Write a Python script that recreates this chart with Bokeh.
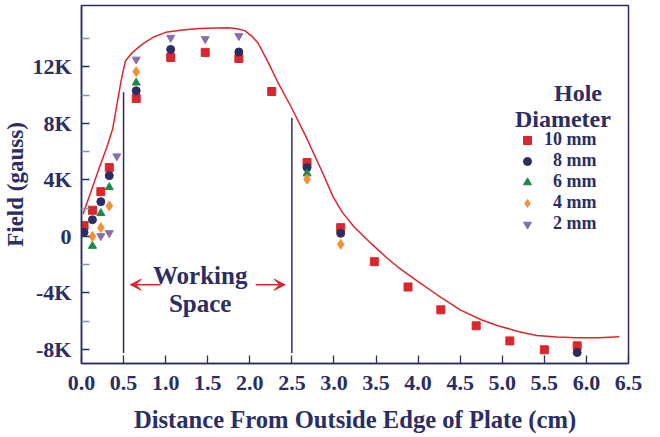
from bokeh.plotting import figure
from bokeh.models import (Range1d, FixedTicker, Legend, LegendItem, Arrow, VeeHead,
                          Label, NumeralTickFormatter)
from bokeh.embed import file_html
from bokeh.resources import INLINE

# ---------------- data ----------------
# 10 mm hole (squares)
sq_x = [0.03, 0.13, 0.23, 0.33, 0.65, 1.06, 1.47, 1.87, 2.26, 2.68, 3.08, 3.48, 3.88, 4.27, 4.69, 5.09, 5.50, 5.89]
sq_y = [760, 1850, 3170, 4870, 9770, 12670, 13030, 12600, 10260, 5230, 620, -1790, -3580, -5200, -6330, -7400, -8030, -7750]
# 8 mm hole (circles)
ci_x = [0.03, 0.13, 0.23, 0.33, 0.65, 1.06, 1.87, 2.68, 3.08, 5.89]
ci_y = [290, 1180, 2460, 4300, 10310, 13240, 13060, 4870, 220, -8220]
# 6 mm hole (triangles)
tr_x = [0.13, 0.23, 0.33, 0.65, 2.68]
tr_y = [-680, 1640, 3480, 10880, 4450]
# 4 mm hole (diamonds)
di_x = [0.13, 0.23, 0.33, 0.65, 2.68, 3.08]
di_y = [0, 620, 2160, 11660, 4050, -560]
# 2 mm hole (inverted triangles)
it_x = [0.23, 0.33, 0.42, 0.65, 1.06, 1.47, 1.87]
it_y = [30, 240, 5680, 12530, 14070, 13980, 14190]

# theoretical curve
curve_x = [0.02, 0.12, 0.22, 0.30, 0.37, 0.42, 0.47, 0.52, 0.60, 0.72, 0.85, 1.00, 1.20, 1.40,
           1.60, 1.75, 1.85, 1.94, 2.02, 2.10, 2.22, 2.34, 2.49, 2.65, 2.85, 2.99, 3.10, 3.24,
           3.45, 3.64, 3.76, 4.00, 4.23, 4.50, 4.75, 4.94, 5.20, 5.41, 5.65, 5.89, 6.15, 6.39]
curve_y = [1600, 3300, 5000, 6300, 7600, 9300, 11000, 12400, 13000, 13600, 14100, 14450, 14620, 14720,
           14760, 14780, 14700, 14570, 14200, 13670, 12300, 10830, 9180, 7280, 4700, 2800, 1700, 670,
           -550, -1580, -2170, -3200, -4150, -5200, -5900, -6310, -6750, -7010, -7130, -7180, -7170, -7110]

# working space markers
ws_x = [0.5, 2.5]
ws_top = [10200, 8400]
ws_bottom = [-8250, -8250]
arrow_y = -3420
arrow_left = (0.94, 0.58)
arrow_right = (2.07, 2.42)

x_ticks = [0.0, 0.5, 1.0, 1.5, 2.0, 2.5, 3.0, 3.5, 4.0, 4.5, 5.0, 5.5, 6.0, 6.5]
y_tick_values = [-8000, -4000, 0, 4000, 8000, 12000]
y_tick_labels = ["-8K", "-4K", "0", "4K", "8K", "12K"]
y_minor_values = [-6000, -2000, 2000, 6000, 10000, 14000]

series_labels = ["10 mm", "\u20078 mm", "\u20076 mm", "\u20074 mm", "\u20072 mm"]
x_title = "Distance From Outside Edge of Plate (cm)"
y_title = "Field (gauss)"

# ---------------- style ----------------
FONT = "Liberation Serif"
NAVY = "#2b2d63"
RED = "#d9272e"
GREEN = "#1b8a45"
ORANGE = "#f29232"
PURPLE = "#8a6dab"
MINOR = "#8a8db5"

p = figure(width=648, height=437, output_backend="svg", toolbar_location=None,
           x_range=Range1d(0, 6.5), y_range=Range1d(-9000, 16350),
           min_border_left=78, min_border_right=20, min_border_top=5, min_border_bottom=74)
p.outline_line_color = NAVY
p.outline_line_width = 1.5
p.xgrid.visible = False
p.ygrid.visible = False
p.background_fill_color = "white"
p.border_fill_color = "white"

p.xaxis.ticker = FixedTicker(ticks=x_ticks)
p.xaxis.formatter = NumeralTickFormatter(format="0.0")
p.yaxis.ticker = FixedTicker(ticks=y_tick_values, minor_ticks=y_minor_values)
p.yaxis.major_label_overrides = dict(zip(y_tick_values, y_tick_labels))

for ax in (p.xaxis[0], p.yaxis[0]):
    ax.axis_line_color = NAVY
    ax.axis_line_width = 1.5
    ax.major_tick_line_color = NAVY
    ax.major_tick_line_width = 1.3
    ax.major_tick_in = 8
    ax.major_tick_out = 0
    ax.minor_tick_in = 8
    ax.minor_tick_out = 0
    ax.minor_tick_line_color = MINOR
    ax.minor_tick_line_width = 1.5
    ax.major_label_text_font = FONT
    ax.major_label_text_font_style = "bold"
    ax.major_label_text_font_size = "22px"
    ax.major_label_text_color = NAVY
    ax.axis_label_text_font = FONT
    ax.axis_label_text_font_style = "bold"
    ax.axis_label_text_font_size = "23px"
    ax.axis_label_text_color = NAVY

p.xaxis.minor_tick_line_color = None
p.xaxis.major_label_standoff = 12
p.yaxis.major_label_standoff = 10
p.yaxis.axis_label = y_title
p.yaxis.axis_label_standoff = 1
p.xaxis.axis_label = x_title
p.xaxis.axis_label_text_font_size = "24.6px"
p.xaxis.axis_label_standoff = 13

text_kw = dict(text_font=FONT, text_font_style="bold", text_color=NAVY,
               text_align="center", text_baseline="alphabetic")

# curve
p.line(curve_x, curve_y, line_color=RED, line_width=1.5)

# working-space lines and arrows
p.segment(x0=ws_x, y0=ws_bottom, x1=ws_x, y1=ws_top, line_color=NAVY, line_width=1.5)
for xs, xe in (arrow_left, arrow_right):
    p.add_layout(Arrow(end=VeeHead(size=11, fill_color=RED, line_color=RED, line_width=1),
                       x_start=xs, y_start=arrow_y, x_end=xe, y_end=arrow_y,
                       line_color=RED, line_width=1.5))

p.add_layout(Label(x=1.41, y=-2740, text="Working", text_font_size="25px", **text_kw))
p.add_layout(Label(x=1.41, y=-4760, text="Space", text_font_size="25px", **text_kw))
p.add_layout(Label(x=5.90, y=10160, text="Hole", text_font_size="24px", **text_kw))
p.add_layout(Label(x=5.72, y=8340, text="Diameter", text_font_size="24px", **text_kw))

# points
r1 = p.scatter(sq_x, sq_y, marker="square", size=8, color=RED)
r2 = p.scatter(ci_x, ci_y, marker="circle", size=8, color=NAVY)
r3 = p.scatter(tr_x, tr_y, marker="triangle", size=8, color=GREEN)
r4 = p.scatter(di_x, di_y, marker="diamond", size=10, color=ORANGE)
r5 = p.scatter(it_x, it_y, marker="inverted_triangle", size=8, color=PURPLE)

legend = Legend(items=[LegendItem(label=l, renderers=[r]) for l, r in
                       zip(series_labels, [r1, r2, r3, r4, r5])],
                location=(436, 129), border_line_color=None, background_fill_alpha=0,
                padding=0, margin=0, spacing=0, glyph_width=20, glyph_height=20,
                label_height=20, label_standoff=7,
                label_text_font=FONT, label_text_font_style="bold",
                label_text_font_size="18px", label_text_color=NAVY)
p.add_layout(legend)

open("out.html", "w").write(file_html(p, INLINE))
